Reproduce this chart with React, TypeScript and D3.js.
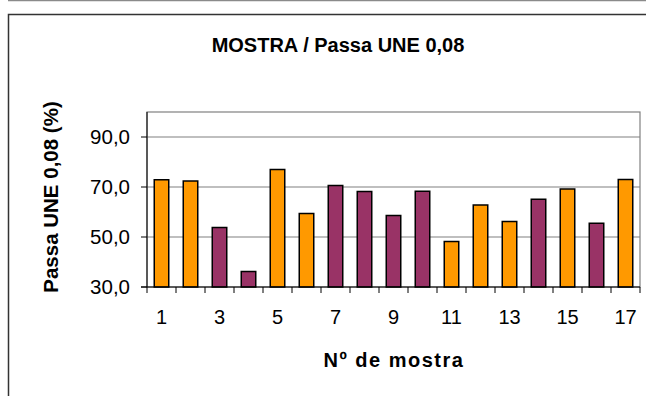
import React from 'react';
import * as d3 from 'd3';

// sample numbers and their "Passa UNE 0,08" values
const samples = [1, 2, 3, 4, 5, 6, 7, 8, 9, 10, 11, 12, 13, 14, 15, 16, 17];
const passValues = [72.9, 72.4, 53.8, 36.2, 77.0, 59.4, 70.6, 68.2, 58.6, 68.3, 48.2, 62.8, 56.2, 65.1, 69.2, 55.5, 73.0];
const barGroup = ['o', 'o', 'p', 'p', 'o', 'o', 'p', 'p', 'p', 'p', 'o', 'o', 'o', 'p', 'o', 'p', 'o'];
const yTicks = [30, 50, 70, 90];
const xLabels = ['1', '3', '5', '7', '9', '11', '13', '15', '17'];

const W = 646;
const H = 396;
const plot = { left: 147, right: 640, top: 112, bottom: 287 };
const font = '"Liberation Sans", Arial, sans-serif';

const App: React.FC = () => {
  const x = d3.scaleBand<number>().domain(samples).range([plot.left, plot.right]).paddingInner(0).paddingOuter(0);
  const y = d3.scaleLinear().domain([30, 100]).range([plot.bottom, plot.top]);
  const color = d3.scaleOrdinal<string, string>().domain(['o', 'p']).range(['#FF9900', '#993366']);
  const bw = x.bandwidth() / 2;
  const fmt = (v: number) => v.toFixed(1).replace('.', ',');

  return (
    <svg width={W} height={H} style={{ position: 'absolute', left: 0, top: 0, background: '#fff' }}>
      {/* page line and chart frame */}
      <line x1={8} x2={W} y1={0.5} y2={0.5} stroke="#8a8a8a" strokeWidth={1.5} />
      <rect x={8.5} y={14.5} width={W + 20} height={H + 20} fill="#fff" stroke="#333" strokeWidth={1.5} />

      <text x={338} y={52} textAnchor="middle" fontFamily={font} fontWeight="bold" fontSize={20}>
        MOSTRA / Passa UNE 0,08
      </text>

      {/* plot area */}
      <rect x={plot.left} y={plot.top} width={plot.right - plot.left} height={plot.bottom - plot.top}
        fill="#fff" stroke="#808080" strokeWidth={1.2} />
      {yTicks.slice(1).map(t => (
        <line key={t} x1={plot.left} x2={plot.right} y1={y(t)} y2={y(t)} stroke="#808080" strokeWidth={1.2} />
      ))}

      {samples.map((s, i) => {
        const bx = (x(s) as number) + x.bandwidth() / 4;
        return (
          <rect key={s} x={bx} y={y(passValues[i])} width={bw} height={plot.bottom - y(passValues[i])}
            fill={color(barGroup[i])} stroke="#000" strokeWidth={1.5} />
        );
      })}

      {/* axes */}
      <line x1={plot.left} x2={plot.left} y1={plot.top} y2={plot.bottom} stroke="#000" strokeWidth={1} />
      <line x1={plot.left - 6} x2={plot.right} y1={plot.bottom} y2={plot.bottom} stroke="#000" strokeWidth={1} />
      {yTicks.map(t => (
        <g key={t}>
          <line x1={plot.left - 6} x2={plot.left} y1={y(t)} y2={y(t)} stroke="#000" />
          <text x={130} y={y(t) + 7} textAnchor="end" fontFamily={font} fontSize={20.5}>{fmt(t)}</text>
        </g>
      ))}
      {samples.concat([samples.length + 1]).map((s, i) => {
        const tx = i < samples.length ? (x(s) as number) : plot.right;
        return <line key={'xt' + i} x1={tx} x2={tx} y1={plot.bottom} y2={plot.bottom + 6} stroke="#000" />;
      })}
      {xLabels.map(l => (
        <text key={l} x={(x(+l) as number) + x.bandwidth() / 2} y={324} textAnchor="middle"
          fontFamily={font} fontSize={20}>{l}</text>
      ))}

      <text x={394} y={367} textAnchor="middle" fontFamily={font} fontWeight="bold" fontSize={20}
        letterSpacing={1.5}>Nº de mostra</text>
      <text transform="translate(58,197) rotate(-90)" textAnchor="middle" fontFamily={font}
        fontWeight="bold" fontSize={20.5}>Passa UNE 0,08 (%)</text>
    </svg>
  );
};

export default App;
